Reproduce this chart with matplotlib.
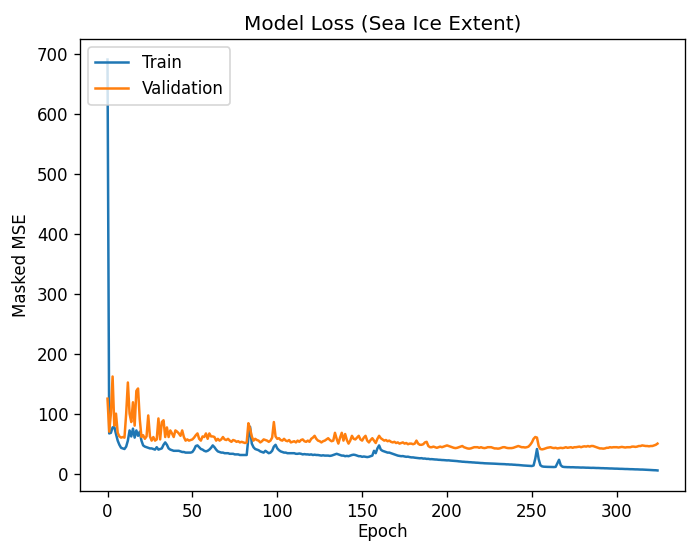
import matplotlib
matplotlib.use("Agg")
import matplotlib.pyplot as plt

train_loss = [
    691, 67, 68, 77, 78, 66, 55, 48, 43, 42,
    41, 45, 55, 72, 62, 75, 60, 72, 63, 70,
    55, 47, 45, 44, 43, 42, 42, 41, 40, 44,
    40, 41, 42, 48, 52, 48, 42, 40, 39, 38,
    38, 38, 38, 37, 36, 36, 35, 35, 35, 35,
    36, 40, 46, 47, 44, 41, 40, 38, 37, 38,
    40, 43, 47, 44, 40, 37, 36, 35, 35, 34,
    34, 34, 33, 33, 33, 32, 32, 32, 31, 31,
    31, 31, 31, 60, 78, 50, 44, 41, 40, 39,
    37, 36, 35, 38, 36, 34, 35, 38, 45, 48,
    42, 39, 37, 36, 35, 35, 34, 34, 34, 34,
    34, 33, 33, 33.5, 33, 32, 32.5, 32, 32, 31.5,
    32, 31, 31.5, 31, 31, 30.5, 30, 30.5, 30, 30,
    30, 29.5, 30, 31, 32, 33, 32, 31, 30, 30,
    29, 29.5, 29, 30, 31, 31.5, 31, 30, 29, 29,
    28, 28.5, 28, 27.5, 28, 29, 30, 38, 34, 42,
    47, 40, 38, 37, 36, 35, 35, 34, 33, 32,
    31, 30, 29.5, 29, 29.2, 28.5, 28, 28.2, 27.5, 27,
    27, 26.5, 26.2, 26, 25.5, 25.7, 25, 25.1, 24.5, 24.6,
    24, 24.1, 23.8, 23.5, 23.4, 23, 22.9, 22.6, 22.5, 22.2,
    22, 22.1, 21.7, 21.5, 21.3, 21, 20.8, 20.4, 20.2, 19.8,
    19.7, 19.4, 19.3, 19, 18.9, 18.6, 18.5, 18.2, 18.1, 17.8,
    17.6, 17.5, 17.2, 17.1, 16.9, 16.9, 16.7, 16.7, 16.5, 16.3,
    16.2, 16.0, 15.9, 15.7, 15.7, 15.4, 15.4, 15.1, 15.1, 14.8,
    14.7, 14.4, 14.3, 14.0, 13.8, 13.5, 13.3, 13.0, 12.9, 12.7,
    12.6, 13.5, 25, 41, 24, 14, 12, 11.5, 11.3, 11.2,
    11.1, 11.0, 11.0, 10.9, 11.2, 17, 23, 14, 11.5, 11.0,
    10.8, 10.7, 10.7, 10.5, 10.6, 10.4, 10.3, 10.3, 10.1, 10.0,
    10.1, 9.9, 9.8, 9.8, 9.6, 9.5, 9.6, 9.4, 9.3, 9.3,
    9.1, 9.0, 9.0, 8.8, 8.8, 8.6, 8.5, 8.5, 8.3, 8.2,
    8.2, 8.0, 7.9, 7.9, 7.7, 7.6, 7.6, 7.4, 7.3, 7.3,
    7.1, 7.0, 7.0, 6.8, 6.7, 6.7, 6.5, 6.4, 6.3, 6.1,
    5.9, 5.8, 5.6, 5.5, 5.2,
]

val_loss = [
    125, 70, 100, 162, 80, 100, 68, 62, 60, 61,
    60, 100, 152, 100, 86, 119, 80, 138, 142, 91,
    61, 64, 58, 62, 97, 62, 55, 61, 55, 57,
    92, 57, 86, 89, 61, 77, 61, 72, 67, 61,
    72, 70, 67, 63, 72, 61, 55, 57, 55, 56,
    57, 60, 64, 67, 58, 55, 62, 61, 67, 58,
    67, 62, 62, 61, 55, 58, 55, 57, 61, 57,
    56, 58, 55, 53, 56, 55, 53, 54, 52, 53,
    52, 51, 52, 84, 75, 62, 55, 58, 56, 55,
    52, 54, 57, 56, 55, 53, 55, 60, 86, 62,
    58, 59, 56, 55, 58, 55, 54, 56, 52, 53,
    54, 52, 55, 53, 56, 57, 54, 53, 55, 53,
    58, 60, 63, 58, 55, 54, 52, 54, 55, 57,
    59, 56, 54, 55, 68, 58, 50, 60, 68, 55,
    66, 56, 50, 55, 63, 58, 57, 60, 63, 57,
    55, 60, 63, 55, 52, 56, 59, 55, 51, 58,
    63, 59, 57, 55, 56, 54, 55, 53, 52, 53,
    51, 52, 50, 51, 52, 50, 51, 49, 50, 50,
    49, 50, 55, 50, 48, 48, 49, 52, 53, 46,
    44, 44, 45, 44, 43, 44, 45, 44, 45, 46,
    47, 46, 45, 44, 43, 42.5, 43, 44, 45, 46,
    44, 43, 42, 41.6, 42, 43, 44, 44, 44, 43,
    44, 43, 42.5, 43, 44, 44, 44, 43, 42, 42,
    41.6, 42, 43, 44, 44, 43, 42.5, 42.5, 42.5, 43,
    44, 45, 46, 45, 44, 44, 43.5, 44, 45, 48,
    52, 58, 61, 60, 46, 41, 40.4, 41, 42, 43,
    43.5, 44, 43, 42.5, 43, 42, 42.5, 43, 42.5, 43,
    44, 43, 43.5, 44, 43, 44, 44, 44.5, 45, 44,
    45, 45.5, 45, 46, 45, 46, 46, 45, 44, 43,
    42, 42, 41.6, 42, 43, 43, 44, 43.5, 44, 44,
    44, 43.5, 44, 44.5, 44, 43.5, 44, 44, 44, 45,
    45, 44.5, 45, 46, 46, 47, 46.5, 46, 46, 45.5,
    46, 46, 47, 48, 50,
]

epochs = list(range(len(train_loss)))

fig = plt.figure(figsize=(688 / 120, 544 / 120), dpi=120)
ax = fig.add_axes([80 / 688, 1 - 491 / 544, 605 / 688, (491 - 39) / 544])
ax.plot(epochs, train_loss, label="Train")
ax.plot(epochs, val_loss, label="Validation")
ax.set_title("Model Loss (Sea Ice Extent)")
ax.set_xlabel("Epoch", labelpad=1.5)
ax.set_ylabel("Masked MSE")
ax.legend(loc="upper left")
fig.savefig("out.png", dpi=120)
